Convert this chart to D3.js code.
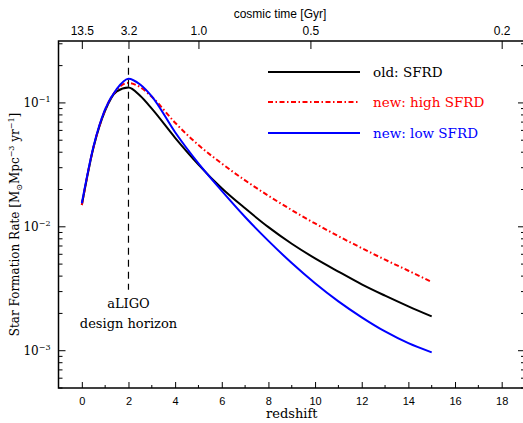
<!DOCTYPE html>
<html>
<head>
<meta charset="utf-8">
<script src="https://cdn.jsdelivr.net/npm/d3@7"></script>
<style>
  body { margin: 0; background: #fff; }
  svg { display: block; }
</style>
</head>
<body>
<div id="chart"></div>
<script>
// ---------------------------------------------
// data
// ---------------------------------------------
const redshift = [0, 0.5, 1, 1.5, 2, 2.5, 3, 4, 5, 6, 7, 8, 9, 10, 11, 12, 13, 14, 15];

const sfrdOld  = [0.015, 0.0437, 0.0867, 0.124, 0.133, 0.114, 0.0898, 0.0523, 0.0318, 0.0205,
                  0.0141, 0.00994, 0.0073, 0.00556, 0.00435, 0.00343, 0.00278, 0.00228, 0.00189];
const sfrdHigh = [0.015, 0.0440, 0.0880, 0.128, 0.145, 0.134, 0.112, 0.0692, 0.0457, 0.0324,
                  0.0237, 0.0178, 0.01365, 0.01064, 0.0084, 0.00673, 0.00543, 0.00442, 0.00359];
const sfrdLow  = [0.0155, 0.0445, 0.0890, 0.130, 0.157, 0.141, 0.113, 0.058, 0.0325, 0.0195,
                  0.0120, 0.0077, 0.0051, 0.0035, 0.0025, 0.00186, 0.00143, 0.00115, 0.00097];

const series = [
  { name: "old: SFRD",       values: sfrdOld,  color: "#000",  dash: null },
  { name: "new: high SFRD",  values: sfrdHigh, color: "#ff0000", dash: "5,2.5,1.5,2.5" },
  { name: "new: low SFRD",   values: sfrdLow,  color: "#0000ff", dash: null }
];

// top axis: cosmic time labels and the redshift they sit at
const timeLabels = ["13.5", "3.2", "1.0", "0.5", "0.2"];
const timeAtZ    = [0, 2, 5, 9.8, 18];

const xMajor = [0, 2, 4, 6, 8, 10, 12, 14, 16, 18];
const xMinor = [1, 3, 5, 7, 9, 11, 13, 15, 17];
const yExponents = [-1, -2, -3];

// aLIGO horizon marker
const horizonZ = 2;
const horizonTop = 0.24;
const horizonBottom = 0.0031;

// ---------------------------------------------
// layout
// ---------------------------------------------
const width = 523, height = 423;
const mLeft = 58.5, mRight = 525, mTop = 41, mBottom = 388;

const svg = d3.select("#chart").append("svg")
  .attr("width", width)
  .attr("height", height);

const x = d3.scaleLinear().domain([-1, 19]).range([mLeft, mRight]);
const y = d3.scaleLog().domain([5e-4, 0.316]).range([mBottom, mTop]);

const serif = "'DejaVu Serif', serif";
const sans = "'Liberation Sans', Arial, sans-serif";

// clip for curves
svg.append("clipPath").attr("id", "clip")
  .append("rect").attr("x", mLeft).attr("y", mTop)
  .attr("width", mRight - mLeft).attr("height", mBottom - mTop);

// ---------------------------------------------
// curves
// ---------------------------------------------
const line = d3.line()
  .x((d, i) => x(redshift[i]))
  .y(d => y(d))
  .curve(d3.curveMonotoneX);

svg.append("g").attr("clip-path", "url(#clip)")
  .selectAll("path")
  .data(series)
  .join("path")
  .attr("fill", "none")
  .attr("stroke", d => d.color)
  .attr("stroke-width", 2)
  .attr("stroke-dasharray", d => d.dash)
  .attr("d", d => line(d.values));

// horizon line
svg.append("line")
  .attr("x1", x(horizonZ)).attr("x2", x(horizonZ))
  .attr("y1", y(horizonTop)).attr("y2", y(horizonBottom))
  .attr("stroke", "#000")
  .attr("stroke-width", 1.2)
  .attr("stroke-dasharray", "7,5");

svg.append("text")
  .attr("x", x(horizonZ)).attr("y", 308)
  .attr("text-anchor", "middle")
  .style("font-family", serif).style("font-size", "13px")
  .text("aLIGO");
svg.append("text")
  .attr("x", x(horizonZ)).attr("y", 328)
  .attr("text-anchor", "middle")
  .style("font-family", serif).style("font-size", "13px")
  .text("design horizon");

// ---------------------------------------------
// axes
// ---------------------------------------------
const xAxis = svg.append("g")
  .attr("transform", `translate(0,${mBottom})`)
  .call(d3.axisBottom(x).tickValues(xMajor).tickSize(-6).tickPadding(9));
xAxis.select(".domain").remove();
xAxis.selectAll("text").style("font-family", sans).style("font-size", "11px");

svg.append("g").selectAll("line")
  .data(xMinor)
  .join("line")
  .attr("x1", d => x(d)).attr("x2", d => x(d))
  .attr("y1", mBottom).attr("y2", mBottom - 3)
  .attr("stroke", "#000");

// top: cosmic time
const topAxis = svg.append("g")
  .attr("transform", `translate(0,${mTop})`)
  .call(d3.axisTop(x).tickValues(timeAtZ)
    .tickFormat((d, i) => timeLabels[i])
    .tickSize(-8).tickPadding(6));
topAxis.select(".domain").remove();
topAxis.selectAll("text").style("font-family", sans).style("font-size", "12px");

svg.append("text")
  .attr("x", 280).attr("y", 18)
  .attr("text-anchor", "middle")
  .style("font-family", sans).style("font-size", "12px")
  .text("cosmic time [Gyr]");

// y ticks, left and right
const yMinor = [];
for (let e = -4; e <= -1; e++) {
  for (let m = 2; m <= 9; m++) {
    const v = m * Math.pow(10, e);
    if (v >= y.domain()[0] && v <= y.domain()[1]) yMinor.push(v);
  }
}

[mLeft, mRight].forEach(edge => {
  const dir = edge === mLeft ? 1 : -1;
  svg.append("g").selectAll("line")
    .data(yExponents)
    .join("line")
    .attr("x1", edge).attr("x2", edge + dir * 7)
    .attr("y1", d => y(Math.pow(10, d))).attr("y2", d => y(Math.pow(10, d)))
    .attr("stroke", "#000");
  svg.append("g").selectAll("line")
    .data(yMinor)
    .join("line")
    .attr("x1", edge).attr("x2", edge + dir * 4)
    .attr("y1", d => y(d)).attr("y2", d => y(d))
    .attr("stroke", "#000");
});

const yLabels = svg.append("g").selectAll("text")
  .data(yExponents)
  .join("text")
  .attr("x", mLeft - 8)
  .attr("y", d => y(Math.pow(10, d)) + 4)
  .attr("text-anchor", "end")
  .style("font-family", serif).style("font-size", "12px");
yLabels.append("tspan").text("10");
yLabels.append("tspan").attr("dy", -5).style("font-size", "8px").text(d => "\u2212" + (-d));

// frame
svg.append("rect")
  .attr("x", mLeft).attr("y", mTop)
  .attr("width", mRight - mLeft).attr("height", mBottom - mTop)
  .attr("fill", "none")
  .attr("stroke", "#000")
  .attr("stroke-width", 1.5);

// axis titles
svg.append("text")
  .attr("x", x(9)).attr("y", 418)
  .attr("text-anchor", "middle")
  .style("font-family", serif).style("font-size", "13px")
  .text("redshift");

const yt = svg.append("text")
  .attr("transform", `translate(19,${(mTop + mBottom) / 2 + 10}) rotate(-90)`)
  .attr("text-anchor", "middle")
  .style("font-family", serif).style("font-size", "12px");
yt.append("tspan").text("Star Formation Rate [M");
yt.append("tspan").attr("dy", 3).style("font-size", "8px").text("\u2299");
yt.append("tspan").attr("dy", -3).text("Mpc");
yt.append("tspan").attr("dy", -5).style("font-size", "8px").text("\u22123");
yt.append("tspan").attr("dy", 5).text(" yr");
yt.append("tspan").attr("dy", -5).style("font-size", "8px").text("\u22121");
yt.append("tspan").attr("dy", 5).text("]");

// ---------------------------------------------
// legend
// ---------------------------------------------
const legendY = [72, 102, 133];
const legend = svg.append("g").selectAll("g")
  .data(series)
  .join("g")
  .attr("transform", (d, i) => `translate(268,${legendY[i]})`);

legend.append("line")
  .attr("x1", 0).attr("x2", 92)
  .attr("stroke", d => d.color)
  .attr("stroke-width", 2)
  .attr("stroke-dasharray", d => d.dash);

legend.append("text")
  .attr("x", 105).attr("y", 5)
  .style("font-family", serif).style("font-size", "13.5px")
  .style("fill", d => d.color)
  .text(d => d.name);
</script>
</body>
</html>
